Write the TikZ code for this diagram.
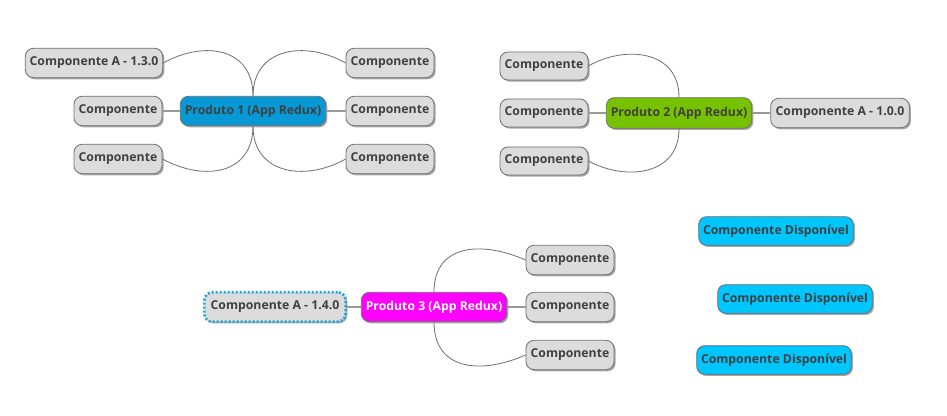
\documentclass[tikz,border=0pt]{standalone}
\usepackage{fontspec}
\setmainfont{Open Sans}
\usetikzlibrary{shadows}
\definecolor{boxgray}{HTML}{DCDCDC}
\definecolor{edgegray}{HTML}{6E6E6E}
\definecolor{txtgray}{HTML}{404040}
\definecolor{pblue}{HTML}{0699D6}
\definecolor{pgreen}{HTML}{77C200}
\definecolor{pmag}{HTML}{FF00FF}
\definecolor{dcyan}{HTML}{00C6FF}
\definecolor{dotcyan}{HTML}{1CA6DE}
\tikzset{
  box/.style={draw=edgegray, line width=0.6pt, rounded corners=6pt, fill=boxgray,
    text=txtgray, font=\fontsize{9.2}{10}\selectfont\bfseries, inner sep=0pt,
    minimum height=22pt, minimum width=66pt,
    drop shadow={shadow xshift=1.2pt, shadow yshift=-1.2pt, fill=black, opacity=0.35}},
  prod/.style={box, minimum width=109pt},
  disp/.style={box, fill=dcyan, minimum width=116pt, minimum height=21.5pt},
  curve/.style={draw=edgegray, line width=0.6pt},
  straight/.style={draw=black!40, line width=1.3pt},
}
\begin{document}
\begin{tikzpicture}[x=0.75pt, y=-0.75pt]
\useasboundingbox (0,0) rectangle (947,416);
% Map 1
\node[prod, fill=pblue] (p1) at (253,111) {Produto 1 (App Redux)};
\node[box, minimum width=103pt] (a1) at (94,63) {Componente A - 1.3.0};
\node[box] (c1l2) at (118,111) {Componente};
\node[box] (c1l3) at (118,159) {Componente};
\node[box] (c1r1) at (390,63) {Componente};
\node[box] (c1r2) at (390,111) {Componente};
\node[box] (c1r3) at (390,159) {Componente};
\draw[straight] (c1l2.east) -- (p1.west);
\draw[straight] (p1.east) -- (c1r2.west);
\draw[curve] (p1.north) .. controls (253,48) and (205,40) .. (a1.east);
\draw[curve] (p1.north) .. controls (253,48) and (305,40) .. (c1r1.west);
\draw[curve] (p1.south) .. controls (253,174) and (205,182) .. (c1l3.east);
\draw[curve] (p1.south) .. controls (253,174) and (305,182) .. (c1r3.west);
% Map 2
\node[prod, fill=pgreen, minimum height=23pt] (p2) at (679,113) {Produto 2 (App Redux)};
\node[box, minimum height=21pt] (c2l1) at (544,66) {Componente};
\node[box, minimum height=21pt] (c2l2) at (544,113) {Componente};
\node[box, minimum height=21pt] (c2l3) at (544,161) {Componente};
\node[box, minimum width=104pt] (a2) at (840,113) {Componente A - 1.0.0};
\draw[straight] (c2l2.east) -- (p2.west);
\draw[straight] (p2.east) -- (a2.west);
\draw[curve] (p2.north) .. controls (679,50) and (625,45) .. (c2l1.east);
\draw[curve] (p2.south) .. controls (679,176) and (625,181) .. (c2l3.east);
% Map 3
\node[prod, fill=pmag, text=white] (p3) at (434,307) {Produto 3 (App Redux)};
\node[box, minimum width=106pt, draw=dotcyan, line width=2pt, dash pattern=on 1.5pt off 1.5pt] (a3) at (275,307) {Componente A - 1.4.0};
\node[box] (c3r1) at (570,260) {Componente};
\node[box] (c3r2) at (570,307) {Componente};
\node[box] (c3r3) at (570,355) {Componente};
\draw[straight] (a3.east) -- (p3.west);
\draw[straight] (p3.east) -- (c3r2.west);
\draw[curve] (p3.north) .. controls (434,245) and (480,240) .. (c3r1.west);
\draw[curve] (p3.south) .. controls (434,370) and (480,375) .. (c3r3.west);
% Available
\node[disp] (d1) at (776,231) {Componente Disponível};
\node[disp] (d2) at (795,299) {Componente Disponível};
\node[disp] (d3) at (774,360) {Componente Disponível};
\end{tikzpicture}
\end{document}
